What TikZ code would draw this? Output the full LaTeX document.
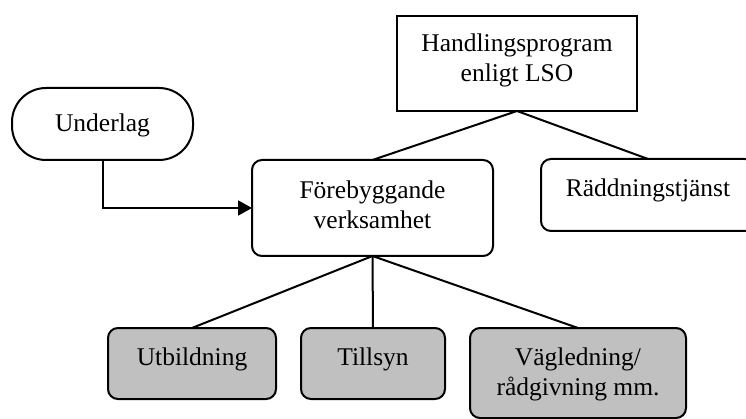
\documentclass[tikz,border=0pt]{standalone}
\usepackage{fontspec}
\setmainfont{Liberation Serif}
\usetikzlibrary{arrows.meta}
\definecolor{boxgrey}{HTML}{C0C0C0}
% fixed-size box whose text starts at a given baseline depth from the top
\newcommand\topbox[4]{\parbox[c][#2][t]{#1}{\centering\rule{0pt}{#3}#4\par}}
\begin{document}
\begin{tikzpicture}[x=1pt,y=-1pt,
  font=\fontsize{25.5}{30}\selectfont,
  every node/.style={inner sep=0pt,outer sep=0pt,anchor=north west},
  plainbox/.style={draw,line width=2pt},
  roundbox/.style={draw,line width=2pt,rounded corners=10pt},
  greybox/.style={roundbox,fill=boxgrey},
  stadium/.style={draw,line width=2pt,rounded corners=34pt},
  link/.style={line width=2pt},
  feed/.style={line width=2pt,-{Triangle[length=14pt,width=15pt]}}]
\clip (0,0) rectangle (746,419);

\node[plainbox] (hand) at (397,16) {\topbox{240pt}{95pt}{36pt}{Handlingsprogram\\enligt LSO}};
\node[stadium] (under) at (12,88) {\topbox{181pt}{72pt}{44pt}{Underlag}};
\node[roundbox] (fore) at (252,160) {\topbox{241pt}{96pt}{39pt}{Förebyggande\\verksamhet}};
\node[roundbox] (radd) at (541,159) {\topbox{214pt}{72pt}{38pt}{Räddningstjänst}};
\node[greybox] (utb) at (108,328) {\topbox{168pt}{71pt}{37pt}{Utbildning}};
\node[greybox] (till) at (301,328) {\topbox{144pt}{71pt}{37pt}{Tillsyn}};
\node[greybox] (vag) at (470,328) {\topbox{216pt}{90pt}{37pt}{Vägledning/\\rådgivning mm.}};

\draw[link] (hand.south) -- (fore.north);
\draw[link] (hand.south) -- (radd.north);
\draw[link] (fore.south) -- (utb.north);
\draw[link] (fore.south) -- (till.north);
\draw[link] (fore.south) -- (vag.north);
\draw[feed] (under.south) |- (fore.west);
\end{tikzpicture}
\end{document}
